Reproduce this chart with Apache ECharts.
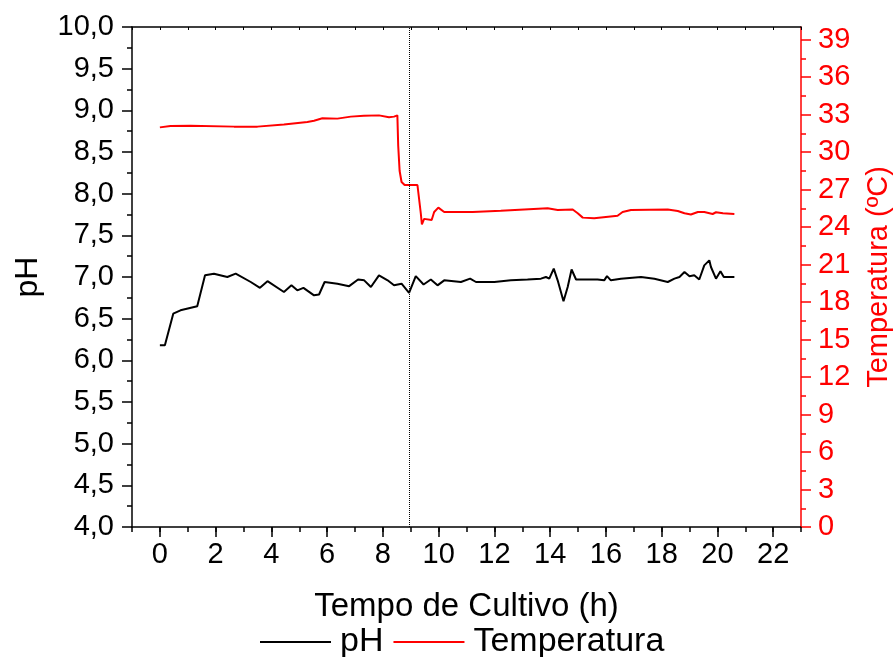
<!DOCTYPE html>
<html>
<head>
<meta charset="utf-8">
<script src="https://cdn.jsdelivr.net/npm/echarts@6/dist/echarts.min.js"></script>
<style>
  html, body { margin: 0; padding: 0; background: #fff; }
  #main { width: 895px; height: 657px; }
</style>
</head>
<body>
<div id="main"></div>
<script>
// pH (eixo esquerdo)
var phTimes = [0, 0.18, 0.48, 0.74, 1.34, 1.62, 1.94, 2.42, 2.72, 3.26, 3.59, 3.86, 4.45, 4.72, 4.93,
  5.15, 5.53, 5.71, 5.91, 6.37, 6.79, 7.11, 7.33, 7.57, 7.86, 8.17, 8.40, 8.67, 8.94, 9.18,
  9.46, 9.72, 9.96, 10.2, 10.8, 11.13, 11.34, 12.0, 12.59, 13.19, 13.67, 13.85, 13.97, 14.13, 14.27,
  14.48, 14.63, 14.77, 14.93, 15.35, 15.70, 15.94, 16.04, 16.18, 16.54, 17.26, 17.74, 18.22, 18.46, 18.64,
  18.82, 19.0, 19.17, 19.35, 19.53, 19.71, 19.77, 19.95, 20.11, 20.23, 20.61];
var phValues = [6.18, 6.18, 6.56, 6.60, 6.65, 7.02, 7.04, 7.00, 7.04, 6.94, 6.87, 6.95, 6.82, 6.90, 6.84,
  6.87, 6.78, 6.79, 6.94, 6.92, 6.89, 6.97, 6.96, 6.88, 7.02, 6.96, 6.90, 6.92, 6.81, 7.01,
  6.91, 6.97, 6.90, 6.96, 6.94, 6.98, 6.94, 6.94, 6.96, 6.97, 6.98, 7.00, 6.98, 7.10, 6.96,
  6.71, 6.88, 7.09, 6.97, 6.97, 6.97, 6.96, 7.01, 6.96, 6.98, 7.00, 6.98, 6.94, 6.98, 7.00,
  7.06, 7.01, 7.02, 6.97, 7.14, 7.20, 7.12, 6.98, 7.07, 7.00, 7.00];

// Temperatura (eixo direito)
var tempTimes = [0, 0.38, 1.10, 2.66, 3.50, 4.45, 5.29, 5.53, 5.83, 6.37, 6.85, 7.32, 7.86, 8.22, 8.40,
  8.52, 8.55, 8.60, 8.67, 8.78, 9.24, 9.36, 9.40, 9.48, 9.75, 9.84, 9.99, 10.2, 11.04, 11.1,
  11.22, 12.23, 13.91, 14.27, 14.81, 14.99, 15.17, 15.58, 16.42, 16.60, 16.9, 18.22, 18.58, 18.82, 19.05,
  19.3, 19.53, 19.83, 19.95, 20.2, 20.61];
var tempValues = [31.97, 32.08, 32.1, 32.03, 32.03, 32.2, 32.4, 32.5, 32.7, 32.67, 32.83, 32.9, 32.93, 32.78, 32.83,
  32.93, 30.5, 28.5, 27.6, 27.36, 27.36, 25.1, 24.2, 24.65, 24.56, 25.2, 25.55, 25.2, 25.2, 25.3,
  25.2, 25.3, 25.5, 25.36, 25.4, 25.1, 24.75, 24.7, 24.9, 25.2, 25.36, 25.4, 25.28, 25.1, 25.0,
  25.2, 25.2, 25.04, 25.18, 25.1, 25.04];

// linha pontilhada vertical
var dividerTime = 8.94;

var xTickLabels = [0, 2, 4, 6, 8, 10, 12, 14, 16, 18, 20, 22];

var font = 'Liberation Sans, Arial, sans-serif';
var phData = phTimes.map(function (t, i) { return [t, phValues[i]]; });
var tempData = tempTimes.map(function (t, i) { return [t, tempValues[i]]; });

// grade principal: x de -1 a 23
var gLeft = 132, gRight = 94, gTop = 27, gBottom = 130;
var pxPerHour = (895 - gLeft - gRight) / 24;
var pxPerDeg = (657 - gTop - gBottom) / 40;

var chart = echarts.init(document.getElementById('main'));
var option = {
  backgroundColor: '#ffffff',
  animation: false,
  grid: [
    { left: gLeft, right: gRight, top: gTop, bottom: gBottom, outerBoundsMode: 'none', containLabel: false },
    // so para os rotulos do eixo x (0..22 de 2 em 2)
    { left: gLeft + pxPerHour, right: 895 - gLeft - pxPerHour * 23, top: gTop, bottom: gBottom,
      outerBoundsMode: 'none', containLabel: false },
    // so para os rotulos da temperatura (0..39 de 3 em 3)
    { left: gLeft, right: gRight, top: gTop + pxPerDeg, bottom: gBottom, outerBoundsMode: 'none', containLabel: false }
  ],
  legend: {
    bottom: -7,
    left: 255,
    icon: 'rect',
    itemWidth: 71,
    itemHeight: 2,
    itemGap: 10,
    textStyle: { fontFamily: font, fontSize: 34, color: '#000', padding: [0, 0, 0, 4] },
    data: ['pH', 'Temperatura']
  },
  xAxis: [
    {
      gridIndex: 0, type: 'value', min: -1, max: 23, interval: 1,
      axisLine: { onZero: false, lineStyle: { color: '#000', width: 1.5 } },
      axisTick: { length: 5, lineStyle: { color: '#000', width: 1.5 } },
      axisLabel: { show: false },
      splitLine: { show: false }
    },
    {
      gridIndex: 0, type: 'value', position: 'top', min: -1, max: 23, interval: 1,
      axisLine: { onZero: false, lineStyle: { color: '#000', width: 1.5 } },
      axisTick: { inside: true, length: 3, lineStyle: { color: '#000', width: 1 } },
      axisLabel: { show: false },
      splitLine: { show: false }
    },
    {
      gridIndex: 1, type: 'value', min: 0, max: 22, interval: 2,
      axisLine: { show: false, onZero: false },
      axisTick: { length: 10, lineStyle: { color: '#000', width: 1.5 } },
      axisLabel: {
        margin: 13, fontFamily: font, fontSize: 29, color: '#000',
        formatter: function (v) { return xTickLabels.indexOf(v) >= 0 ? String(v) : ''; }
      },
      splitLine: { show: false },
      name: 'Tempo de Cultivo (h)',
      nameLocation: 'middle',
      nameGap: 63,
      nameTextStyle: { fontFamily: font, fontSize: 33, color: '#000' }
    },
    { gridIndex: 2, type: 'value', min: -1, max: 23, show: false }
  ],
  yAxis: [
    {
      gridIndex: 0, type: 'value', min: 4, max: 10, interval: 0.5,
      axisLine: { show: true, onZero: false, lineStyle: { color: '#000', width: 1.5 } },
      axisTick: { length: 10, lineStyle: { color: '#000', width: 1.5 } },
      minorTick: { show: true, splitNumber: 2, length: 5, lineStyle: { color: '#000', width: 1.5 } },
      axisLabel: {
        margin: 18, fontFamily: font, fontSize: 29, color: '#000',
        formatter: function (v) { return v.toFixed(1).replace('.', ','); }
      },
      splitLine: { show: false },
      name: 'pH',
      nameLocation: 'middle',
      nameRotate: 90,
      nameGap: 88,
      nameTextStyle: { fontFamily: font, fontSize: 32, color: '#000' }
    },
    {
      gridIndex: 0, type: 'value', position: 'right', min: 0, max: 40,
      axisLine: { show: true, onZero: false, lineStyle: { color: '#ff0000', width: 1.5 } },
      axisTick: { show: false },
      axisLabel: { show: false },
      splitLine: { show: false },
      name: 'Temperatura (ºC)',
      nameLocation: 'middle',
      nameRotate: 90,
      nameGap: 63,
      nameTextStyle: { fontFamily: font, fontSize: 29, color: '#ff0000' }
    },
    { gridIndex: 1, type: 'value', show: false },
    {
      gridIndex: 2, type: 'value', position: 'right', min: 0, max: 39, interval: 3,
      axisLine: { show: false, onZero: false },
      axisTick: { length: 10, lineStyle: { color: '#ff0000', width: 1.5 } },
      minorTick: { show: true, splitNumber: 2, length: 5, lineStyle: { color: '#ff0000', width: 1.5 } },
      axisLabel: { margin: 17, fontFamily: font, fontSize: 29, color: '#ff0000' },
      splitLine: { show: false }
    }
  ],
  series: [
    {
      name: 'pH',
      type: 'line',
      xAxisIndex: 0,
      yAxisIndex: 0,
      data: phData,
      symbol: 'none',
      lineStyle: { color: '#000', width: 2 },
      itemStyle: { color: '#000' },
      markLine: {
        silent: true,
        symbol: 'none',
        label: { show: false },
        lineStyle: { color: '#000', width: 1, type: 'dotted' },
        data: [{ xAxis: dividerTime }]
      }
    },
    {
      name: 'Temperatura',
      type: 'line',
      xAxisIndex: 0,
      yAxisIndex: 1,
      data: tempData,
      symbol: 'none',
      lineStyle: { color: '#ff0000', width: 2 },
      itemStyle: { color: '#ff0000' }
    }
  ]
};
chart.setOption(option);
</script>
</body>
</html>
